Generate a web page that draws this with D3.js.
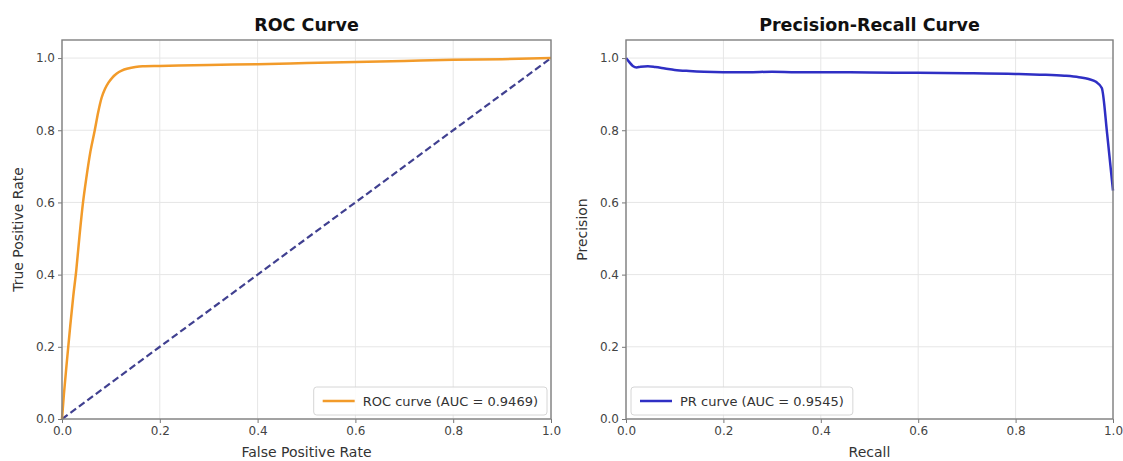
<!DOCTYPE html>
<html>
<head>
<meta charset="utf-8">
<script src="https://cdn.jsdelivr.net/npm/d3@7"></script>
<style>
  body { margin: 0; background: #fff; }
  svg { font-family: "DejaVu Sans", sans-serif; }
</style>
</head>
<body>
<svg id="chart" width="1123" height="461"></svg>
<script>
// ROC curve points
var rocFpr = [0, 0.004, 0.01, 0.017, 0.023, 0.029, 0.036, 0.043, 0.05, 0.058, 0.067, 0.074, 0.081, 0.088, 0.095, 0.103, 0.112, 0.122, 0.135, 0.15, 0.165, 0.2, 0.3, 0.4, 0.5, 0.6, 0.7, 0.8, 0.9, 1.0];
var rocTpr = [0, 0.07, 0.16, 0.26, 0.34, 0.41, 0.51, 0.6, 0.67, 0.74, 0.8, 0.85, 0.89, 0.915, 0.932, 0.946, 0.957, 0.965, 0.971, 0.975, 0.977, 0.978, 0.981, 0.983, 0.986, 0.989, 0.992, 0.995, 0.997, 1.0];
var diagonal = [0, 1];

// Precision-recall curve points
var prRecall = [0, 0.006, 0.014, 0.022, 0.03, 0.045, 0.06, 0.08, 0.1, 0.13, 0.16, 0.2, 0.25, 0.3, 0.35, 0.4, 0.5, 0.6, 0.7, 0.8, 0.85, 0.9, 0.93, 0.95, 0.965, 0.977, 0.988, 1.0];
var prPrecision = [1.0, 0.99, 0.978, 0.974, 0.976, 0.977, 0.975, 0.971, 0.967, 0.964, 0.962, 0.961, 0.961, 0.962, 0.961, 0.961, 0.96, 0.959, 0.958, 0.956, 0.954, 0.951, 0.947, 0.942, 0.934, 0.917, 0.79, 0.633];

var tickValues = [0, 0.2, 0.4, 0.6, 0.8, 1.0];

var panels = [
    {left: 62, right: 551, title: "ROC Curve", xlabel: "False Positive Rate", ylabel: "True Positive Rate",
     xs: rocFpr, ys: rocTpr, color: "#f29b2a", legend: "ROC curve (AUC = 0.9469)", legendPos: "right", diag: true},
    {left: 626, right: 1113, title: "Precision-Recall Curve", xlabel: "Recall", ylabel: "Precision",
     xs: prRecall, ys: prPrecision, color: "#2f2fc4", legend: "PR curve (AUC = 0.9545)", legendPos: "left", diag: false}
];

(function () {
    var plotTop = 40, plotBottom = 419;
    var svg = d3.select("#chart");

    panels.forEach(function (p) {
        var x = d3.scaleLinear().domain([0, 1]).range([p.left, p.right]);
        var y = d3.scaleLinear().domain([0, 1.05]).range([plotBottom, plotTop]);
        var g = svg.append("g");

        // grid
        g.append("g").selectAll("line").data(tickValues).enter().append("line")
            .attr("x1", function (d) { return x(d); }).attr("x2", function (d) { return x(d); })
            .attr("y1", plotTop).attr("y2", plotBottom)
            .attr("stroke", "#e6e6e6").attr("stroke-width", 1);
        g.append("g").selectAll("line").data(tickValues).enter().append("line")
            .attr("x1", p.left).attr("x2", p.right)
            .attr("y1", function (d) { return y(d); }).attr("y2", function (d) { return y(d); })
            .attr("stroke", "#e6e6e6").attr("stroke-width", 1);

        var line = d3.line()
            .x(function (d) { return x(d[0]); })
            .y(function (d) { return y(d[1]); });

        if (p.diag) {
            g.append("path")
                .datum(diagonal.map(function (v) { return [v, v]; }))
                .attr("d", line)
                .attr("fill", "none").attr("stroke", "#404090")
                .attr("stroke-width", 2.2).attr("stroke-dasharray", "7,3.5");
        }

        g.append("path")
            .datum(p.xs.map(function (v, i) { return [v, p.ys[i]]; }))
            .attr("d", line.curve(d3.curveMonotoneX))
            .attr("fill", "none").attr("stroke", p.color)
            .attr("stroke-width", 2.5).attr("stroke-linejoin", "round");

        // axes
        var xAxis = g.append("g").attr("transform", "translate(0," + plotBottom + ")")
            .call(d3.axisBottom(x).tickValues(tickValues).tickFormat(d3.format(".1f")).tickSizeOuter(0).tickSize(4).tickPadding(3));
        var yAxis = g.append("g").attr("transform", "translate(" + p.left + ",0)")
            .call(d3.axisLeft(y).tickValues(tickValues).tickFormat(d3.format(".1f")).tickSizeOuter(0).tickSize(4).tickPadding(3));
        [xAxis, yAxis].forEach(function (a) {
            a.select(".domain").remove();
            a.selectAll(".tick line").attr("stroke", "#777");
            a.selectAll(".tick text").attr("fill", "#444").style("font-size", "12px").style("font-family", "DejaVu Sans");
        });

        // frame
        g.append("rect")
            .attr("x", p.left).attr("y", plotTop)
            .attr("width", p.right - p.left).attr("height", plotBottom - plotTop)
            .attr("fill", "none").attr("stroke", "#808080").attr("stroke-width", 1.4);

        // title & labels
        g.append("text").attr("x", (p.left + p.right) / 2).attr("y", 31)
            .attr("text-anchor", "middle").style("font-size", "17.5px").style("font-weight", "bold")
            .attr("fill", "#111").text(p.title);
        g.append("text").attr("x", (p.left + p.right) / 2).attr("y", 457)
            .attr("text-anchor", "middle").style("font-size", "14px").attr("fill", "#333").text(p.xlabel);
        g.append("text")
            .attr("transform", "translate(" + (p.left - 39) + "," + ((plotTop + plotBottom) / 2) + ") rotate(-90)")
            .attr("text-anchor", "middle").style("font-size", "14px").attr("fill", "#333").text(p.ylabel);

        // legend
        var lg = g.append("g");
        var txt = lg.append("text").style("font-size", "13px").attr("fill", "#333").text(p.legend);
        var tw = txt.node().getComputedTextLength();
        var bw = tw + 58, bh = 28;
        var bx = p.legendPos === "right" ? p.right - 4 - bw : p.left + 5;
        var by = plotBottom - 4 - bh;
        lg.insert("rect", "text").attr("x", bx).attr("y", by).attr("width", bw).attr("height", bh)
            .attr("rx", 3).attr("fill", "#fff").attr("fill-opacity", 0.85)
            .attr("stroke", "#d6d6d6").attr("stroke-width", 1);
        lg.append("line").attr("x1", bx + 9).attr("x2", bx + 41)
            .attr("y1", by + bh / 2).attr("y2", by + bh / 2)
            .attr("stroke", p.color).attr("stroke-width", 2.5);
        txt.attr("x", bx + 49).attr("y", by + bh / 2 + 4.5);
    });
})();
</script>
</body>
</html>
